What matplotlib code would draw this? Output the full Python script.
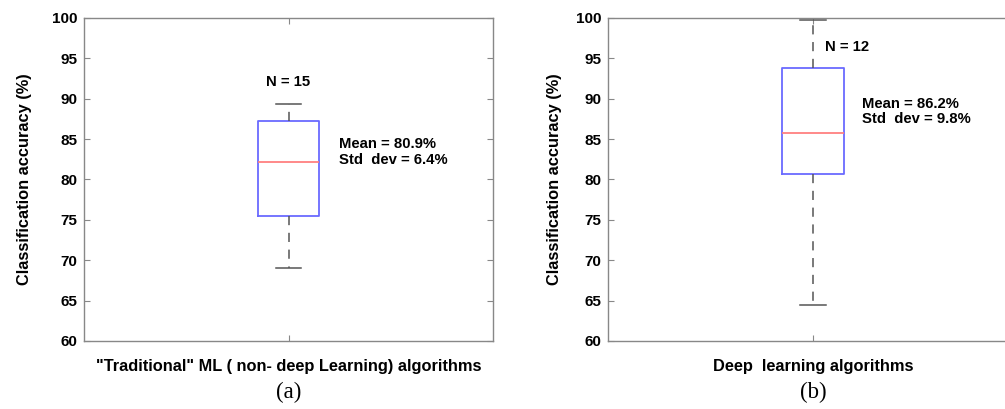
import matplotlib.pyplot as plt

plt.rcParams['font.family'] = ['Liberation Sans', 'DejaVu Sans']

# five-number summaries
labels = ['"Traditional" ML ( non- deep Learning) algorithms', 'Deep  learning algorithms']
panel = ['(a)', '(b)']
whislo = [69.0, 64.5]
q1 = [75.5, 80.7]
med = [82.2, 85.7]
q3 = [87.2, 93.8]
whishi = [89.3, 99.7]
n_txt = ['N = 15', 'N = 12']
stat_txt = ['Mean = 80.9%\nStd  dev = 6.4%', 'Mean = 86.2%\nStd  dev = 9.8%']

fig = plt.figure(figsize=(10.05, 4.09), dpi=100)
W, H = 1005, 409
pos = [[84, 18, 409, 323], [608, 18, 410, 323]]
n_xy = [(1.0, 92.1, 'center'), (1.03, 96.4, 'left')]
st_xy = [(1.123, 83.4), (1.12, 88.4)]
ylpad = [14, 10]

for i in range(2):
    x0, y0, w, h = pos[i]
    ax = fig.add_axes([x0 / W, 1 - (y0 + h) / H, w / W, h / H])
    stats = [dict(whislo=whislo[i], q1=q1[i], med=med[i], q3=q3[i], whishi=whishi[i], fliers=[])]
    ax.bxp(stats, positions=[1], widths=0.149, showfliers=False,
           boxprops=dict(color='#6a6aff', lw=1.3),
           medianprops=dict(color='#ff8080', lw=1.3),
           whiskerprops=dict(color='#555555', lw=1.1, ls=(0, (6, 5))),
           capprops=dict(color='#555555', lw=1.1), capwidths=0.061)
    ax.set_xlim(0.5, 1.5)
    ax.set_ylim(60, 100)
    ax.set_yticks(range(60, 101, 5))
    ax.set_xticks([1])
    ax.set_xticklabels([''])
    ax.tick_params(direction='in', top=True, right=True, length=4, color='#888888',
                   labelsize=11, pad=5)
    for lab in ax.get_yticklabels():
        lab.set_fontweight('bold')
    for s in ax.spines.values():
        s.set_color('#888888')
        s.set_linewidth(1.0)
    ax.set_ylabel('Classification accuracy (%)', fontsize=11.8, fontweight='bold', labelpad=ylpad[i])
    ax.set_xlabel(labels[i], fontsize=11.8, fontweight='bold', labelpad=8)
    x, y, ha = n_xy[i]
    ax.text(x, y, n_txt[i], ha=ha, va='center', fontsize=10.7, fontweight='bold')
    ax.text(st_xy[i][0], st_xy[i][1], stat_txt[i], ha='left', va='center',
            fontsize=10.7, fontweight='bold', linespacing=1.1)
    ax.text(0.5, -0.16, panel[i], transform=ax.transAxes, ha='center', va='center',
            fontsize=16.5, family='Liberation Serif')

fig.savefig('out.png', dpi=100)
